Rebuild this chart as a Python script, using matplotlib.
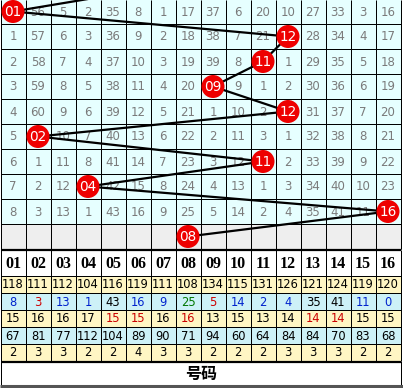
import matplotlib
matplotlib.use("Agg")
import matplotlib.pyplot as plt
from matplotlib.patches import Circle, Rectangle

# 号码 01-16
numbers = [f"{n:02d}" for n in range(1, 17)]

# 每期开出的号码(最上面一期之前那期开的是07)
prev_hit = 7
hits = [1, 12, 11, 9, 12, 2, 11, 4, 16, 8]

# 遗漏值, 0 = 当期开出
misses = [
    [0, 56, 5, 2, 35, 8, 1, 17, 37, 6, 20, 10, 27, 33, 3, 16],
    [1, 57, 6, 3, 36, 9, 2, 18, 38, 7, 21, 0, 28, 34, 4, 17],
    [2, 58, 7, 4, 37, 10, 3, 19, 39, 8, 0, 1, 29, 35, 5, 18],
    [3, 59, 8, 5, 38, 11, 4, 20, 0, 9, 1, 2, 30, 36, 6, 19],
    [4, 60, 9, 6, 39, 12, 5, 21, 1, 10, 2, 0, 31, 37, 7, 20],
    [5, 0, 10, 7, 40, 13, 6, 22, 2, 11, 3, 1, 32, 38, 8, 21],
    [6, 1, 11, 8, 41, 14, 7, 23, 3, 12, 0, 2, 33, 39, 9, 22],
    [7, 2, 12, 0, 42, 15, 8, 24, 4, 13, 1, 3, 34, 40, 10, 23],
    [8, 3, 13, 1, 43, 16, 9, 25, 5, 14, 2, 4, 35, 41, 11, 0],
]

# 统计
total_hits = [118, 111, 112, 104, 116, 119, 111, 108, 134, 115, 131, 126, 121, 124, 119, 120]
current_miss = [8, 3, 13, 1, 43, 16, 9, 25, 5, 14, 2, 4, 35, 41, 11, 0]
avg_miss = [15, 16, 16, 17, 15, 15, 16, 16, 13, 15, 13, 14, 14, 14, 15, 15]
max_miss = [67, 81, 77, 112, 104, 89, 90, 71, 94, 60, 64, 84, 84, 70, 83, 68]
max_streak = [2, 3, 3, 2, 2, 4, 3, 3, 2, 2, 2, 3, 3, 3, 2, 2]

BLUE, RED, GREEN, BLACK = "#0022cc", "#cc0000", "#007700", "#000000"
current_miss_colors = [BLUE, RED, BLUE, BLUE, BLACK, BLUE, BLUE, GREEN,
                       RED, BLUE, BLUE, BLUE, BLACK, BLACK, BLUE, BLUE]
avg_miss_colors = [BLACK, BLACK, BLACK, BLACK, RED, RED, BLACK, RED,
                   BLACK, BLACK, BLACK, BLACK, RED, RED, BLACK, BLACK]

W, H = 403, 388
CW = 25          # 列宽
RH = 25          # 走势行高
TOP = -1
SH = 17          # 统计行高
HEAD_TOP = 250
STAT_TOP = 276
LW = 0.72        # 1 px

fig = plt.figure(figsize=(W / 100, H / 100), dpi=100)
ax = fig.add_axes([0, 0, 1, 1])
ax.set_xlim(0, W)
ax.set_ylim(H, 0)
ax.axis("off")

x0 = 0.5
n_cols = len(numbers)
right = x0 + CW * n_cols


def cx(col):
    return x0 + CW * col + CW / 2


def ry(row):
    return TOP + RH * row + RH / 2


# 走势区背景
n_rows = len(hits)
for r in range(n_rows):
    color = "#e6ffff" if r < len(misses) else "#eeeeee"
    ax.add_patch(Rectangle((x0, TOP + RH * r), CW * n_cols, RH, fc=color, ec="none", zorder=0))

for r, row in enumerate(misses):
    for c, v in enumerate(row):
        if v:
            ax.text(cx(c), ry(r) + 0.5, str(v), ha="center", va="center",
                    fontsize=8.5, color="#7a7a7a", zorder=2)

grid_bottom = TOP + RH * n_rows
ax.hlines([TOP + RH * r for r in range(1, n_rows + 1)], x0, right, color="black", lw=LW, zorder=1)
ax.vlines([x0 + CW * c for c in range(n_cols + 1)], 0, grid_bottom, color="black", lw=LW, zorder=1)

# 折线 + 红球
pts = [(cx(prev_hit - 1), ry(-1))] + [(cx(h - 1), ry(r)) for r, h in enumerate(hits)]
ax.plot([p[0] for p in pts], [p[1] for p in pts], color="black", lw=1.6, zorder=3,
        solid_capstyle="round")
for r, h in enumerate(hits):
    ax.add_patch(Circle((cx(h - 1), ry(r)), 11.5, fc="#ee0000", ec="none", zorder=4))
    ax.text(cx(h - 1), ry(r) + 0.5, numbers[h - 1], ha="center", va="center",
            fontsize=9.8, color="white", zorder=5)

# 表头
ax.add_patch(Rectangle((x0, HEAD_TOP), CW * n_cols, STAT_TOP - HEAD_TOP, fc="white", ec="none", zorder=0))
for c, lab in enumerate(numbers):
    ax.text(cx(c), (HEAD_TOP + STAT_TOP) / 2 + 1, lab, ha="center", va="center",
            fontsize=11.5, fontweight="bold", family="Liberation Serif", color="black")

# 统计行
stats = [
    (total_hits, [BLACK] * n_cols, "#fff6c4"),
    (current_miss, current_miss_colors, "#cdf1f7"),
    (avg_miss, avg_miss_colors, "#fff6c4"),
    (max_miss, [BLACK] * n_cols, "#cdf1f7"),
    (max_streak, [BLACK] * n_cols, "#fff6c4"),
]
for k, (vals, colors, bg) in enumerate(stats):
    y = STAT_TOP + SH * k
    ax.add_patch(Rectangle((x0, y), CW * n_cols, SH, fc=bg, ec="none", zorder=0))
    for c, v in enumerate(vals):
        ax.text(cx(c), y + SH / 2 + 0.5, str(v), ha="center", va="center",
                fontsize=8.3, color=colors[c])
stat_bottom = STAT_TOP + SH * len(stats)

ax.hlines([STAT_TOP + SH * k for k in range(1, len(stats))], x0, right, color="black", lw=LW)
ax.vlines([x0 + CW * c for c in range(n_cols + 1)], HEAD_TOP, stat_bottom, color="black", lw=LW)
ax.hlines([HEAD_TOP, stat_bottom + 0.5], x0, right, color="black", lw=1.6)
ax.hlines([STAT_TOP], x0, right, color="black", lw=LW)

# 底部
ax.text(W / 2, (stat_bottom + 385) / 2 + 1, "号码", ha="center", va="center",
        fontsize=11.5, fontweight="bold", family=["Noto Sans CJK SC", "DejaVu Sans"])
ax.vlines([x0, right], stat_bottom, 385, color="black", lw=LW)
ax.hlines([385.5], 0, W, color="#555555", lw=2.2)

fig.savefig("out.png", dpi=100)
